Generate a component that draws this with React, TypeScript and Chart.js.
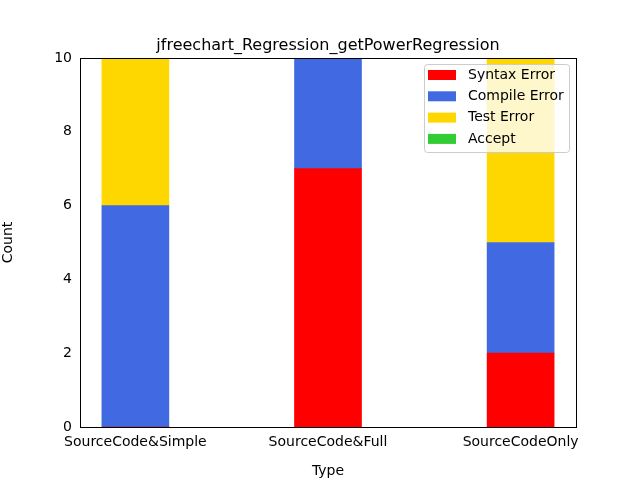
import { useEffect, useRef } from "react";
import { Chart, registerables } from "chart.js";

Chart.register(...registerables);

const categories = ["SourceCode&Simple", "SourceCode&Full", "SourceCodeOnly"];
const seriesNames = ["Syntax Error", "Compile Error", "Test Error", "Accept"];
const seriesColors = ["#ff0000", "#4169e1", "#ffd700", "#32cd32"];
const syntaxError = [0, 7, 2];
const compileError = [6, 3, 3];
const testError = [4, 0, 5];
const accept = [0, 0, 0];
const yTicks = [0, 2, 4, 6, 8, 10];

const FONT = "DejaVu Sans";

const framePlugin = {
  id: "frame",
  afterDraw(chart: any) {
    const { ctx, chartArea: a } = chart;
    ctx.save();
    ctx.strokeStyle = "#000";
    ctx.lineWidth = 1;
    ctx.strokeRect(a.left + 0.5, a.top + 0.5, a.right - a.left, a.bottom - a.top);
    // title
    ctx.fillStyle = "#000";
    ctx.font = `16px '${FONT}'`;
    ctx.textAlign = "center";
    ctx.textBaseline = "alphabetic";
    ctx.fillText("jfreechart_Regression_getPowerRegression", (a.left + a.right) / 2, 50);
    // legend
    const lx = a.right - 152, ly = a.top + 6, lw = 145, lh = 88;
    ctx.fillStyle = "rgba(255,255,255,0.8)";
    ctx.strokeStyle = "#cccccc";
    ctx.beginPath();
    ctx.roundRect(lx + 0.5, ly + 0.5, lw, lh, 3);
    ctx.fill();
    ctx.stroke();
    ctx.font = `14px '${FONT}'`;
    ctx.textAlign = "left";
    ctx.textBaseline = "middle";
    chart.data.datasets.forEach((d: any, i: number) => {
      const y = ly + 11 + i * 21.3;
      ctx.fillStyle = d.backgroundColor;
      ctx.fillRect(lx + 4, y - 5, 28, 10);
      ctx.fillStyle = "#000";
      ctx.fillText(d.label, lx + 44, y);
    });
    ctx.restore();
  },
};

export default function App() {
  const ref = useRef<HTMLCanvasElement | null>(null);

  useEffect(() => {
    document.body.style.margin = "0";
    if (!ref.current) return;
    const values = [syntaxError, compileError, testError, accept];
    const chart = new Chart(ref.current, {
      type: "bar",
      data: {
        datasets: seriesNames.map((name, i) => ({
          label: name,
          data: values[i].map((v, j) => ({ x: j, y: v })),
          backgroundColor: seriesColors[i],
          barThickness: 67,
        })),
      },
      options: {
        responsive: false,
        animation: false,
        layout: { padding: { left: 0, top: 58, right: 64, bottom: 0 } },
        plugins: { legend: { display: false }, tooltip: { enabled: false } },
        scales: {
          x: {
            type: "linear",
            stacked: true,
            offset: false,
            min: -0.2875,
            max: 2.2875,
            afterFit: (s: any) => { s.height = 53; },
            afterBuildTicks: (s: any) => { s.ticks = [0, 1, 2].map((v) => ({ value: v })); },
            grid: { display: false, offset: false, drawTicks: true, tickLength: 5, tickColor: "#000" },
            border: { display: false },
            ticks: {
              color: "#000",
              font: { family: FONT, size: 14 },
              padding: 2,
              maxRotation: 0,
              callback: (v: any) => categories[v] ?? "",
            },
            title: { display: true, text: "Type", color: "#000", font: { family: FONT, size: 14 }, padding: 0 },
          },
          y: {
            stacked: true,
            min: 0,
            max: 10,
            afterFit: (s: any) => { s.width = 80; },
            afterBuildTicks: (s: any) => { s.ticks = yTicks.map((v) => ({ value: v })); },
            grid: { display: false, drawTicks: true, tickLength: 5, tickColor: "#000" },
            border: { display: false },
            ticks: { color: "#000", font: { family: FONT, size: 14 }, padding: 3 },
            title: { display: true, text: "Count", color: "#000", font: { family: FONT, size: 14 }, padding: { top: 0, bottom: 0 } },
          },
        },
      },
      plugins: [framePlugin],
    });
    return () => chart.destroy();
  }, []);

  return <canvas ref={ref} width={640} height={480} />;
}
